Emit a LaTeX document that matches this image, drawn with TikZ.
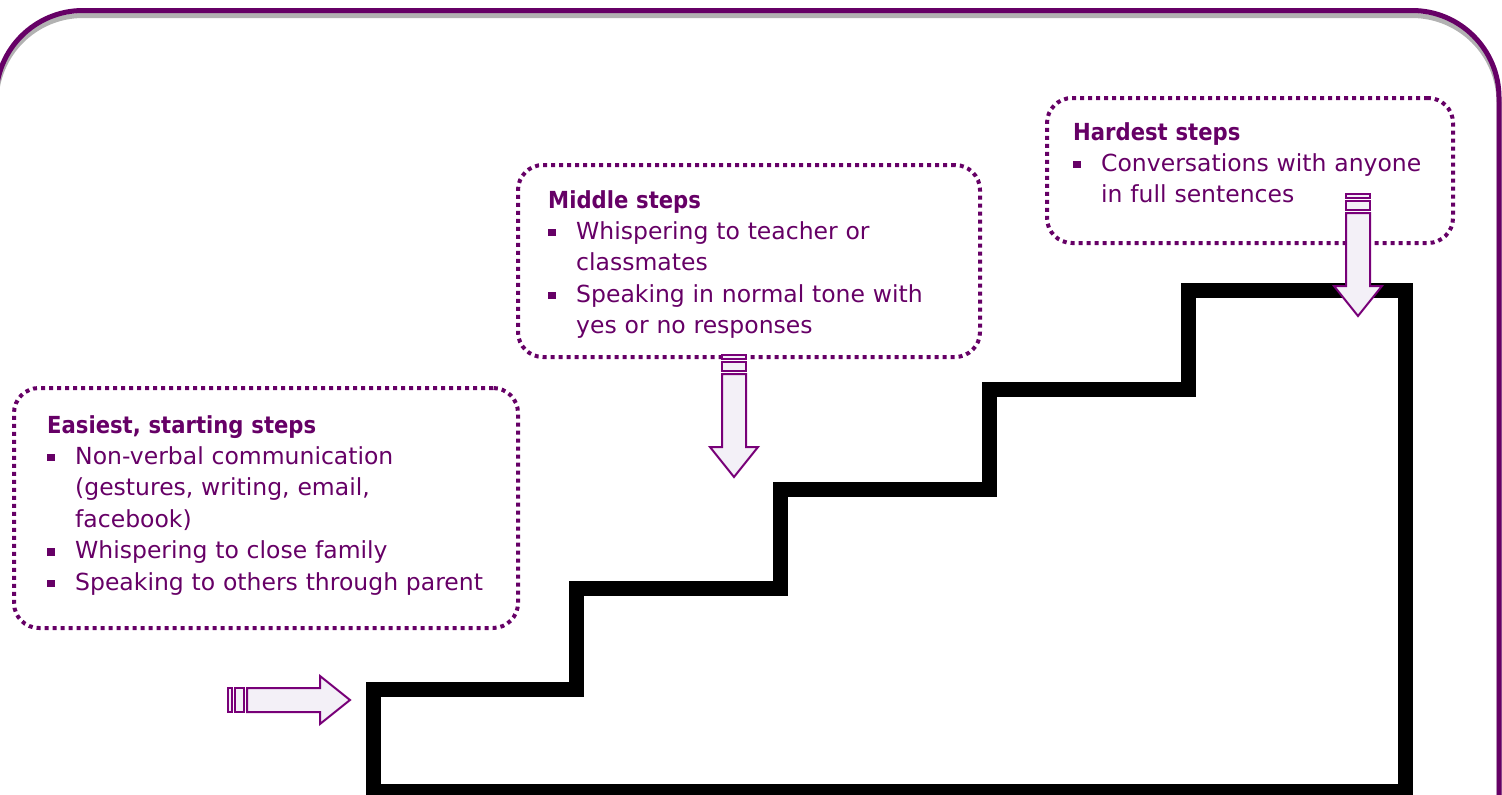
\documentclass[tikz,border=0pt]{standalone}
\usepackage{fontspec}
\setmainfont{DejaVu Sans}
\newfontfamily\headfont{DejaVu Sans}[FakeStretch=0.9]
\usetikzlibrary{calc}
\definecolor{plum}{RGB}{102,0,102}
\definecolor{arrowline}{RGB}{120,0,120}
\definecolor{arrowfill}{RGB}{243,240,247}
\newcommand{\bul}{\par\hangindent=28pt\hangafter=1\noindent\makebox[28pt][l]{\raisebox{3pt}{\rule{7.5pt}{7.5pt}}}}
\tikzset{
  pics/stripedarrow/.style={code={
    \draw[arrowbody] (-122,-12) rectangle (-118,12);
    \draw[arrowbody] (-115,-12) rectangle (-106,12);
    \draw[arrowbody] (-103,-12) -- (-30,-12) -- (-30,-24) -- (0,0) -- (-30,24) -- (-30,12) -- (-103,12) -- cycle;
  }}
}
\begin{document}
\begin{tikzpicture}[
    x=1pt, y=-1pt,
    frameline/.style={draw=plum, line width=5pt, rounded corners=87pt},
    shadowline/.style={draw=black!30, line width=5pt, rounded corners=87pt},
    stairline/.style={draw=black, line width=15pt, miter limit=4},
    stepbox/.style={draw=plum, line width=4pt, dash pattern=on 4pt off 4pt, rounded corners=25pt},
    steptext/.style={text=plum, inner sep=0pt, align=left, anchor=base west,
                     font=\fontsize{23.5}{31.4}\selectfont},
    arrowbody/.style={draw=arrowline, fill=arrowfill, line width=2pt, miter limit=4}
]
    \useasboundingbox (0,0) rectangle (1502,795);
    \clip (0,0) rectangle (1502,795);

    % outer frame, with its shadow shifted down
    \draw[shadowline] (-4,900) -- (-4,15.5) -- (1499,15.5) -- (1499,900);
    \draw[frameline] (-4,900) -- (-4,10.5) -- (1499,10.5) -- (1499,900);

    % staircase
    \draw[stairline] (373,791) -- (373,689) -- (576,689) -- (576,588) -- (780,588)
        -- (780,489) -- (989,489) -- (989,389) -- (1188,389) -- (1188,290)
        -- (1405,290) -- (1405,791) -- cycle;

    % dotted boxes
    \node[stepbox, minimum width=504pt, minimum height=240pt] (easybox) at (266,508) {};
    \node[stepbox, minimum width=462pt, minimum height=192pt] (middlebox) at (749,261) {};
    \node[stepbox, minimum width=406pt, minimum height=145pt] (hardbox) at (1250,170.5) {};

    \node[steptext, text width=470pt] (easytext) at (47,433) {%
        {\headfont\bfseries Easiest, starting steps}
        \bul Non-verbal communication\newline(gestures, writing, email,\newline facebook)
        \bul Whispering to close family
        \bul Speaking to others through parent\par};

    \node[steptext, text width=430pt] (middletext) at (548,208) {%
        {\headfont\bfseries Middle steps}
        \bul Whispering to teacher or\newline classmates
        \bul Speaking in normal tone with\newline yes or no responses\par};

    \node[steptext, text width=400pt] (hardtext) at (1073,140) {%
        {\headfont\bfseries Hardest steps}
        \bul Conversations with anyone\newline in full sentences\par};

    % striped arrows
    \pic (startarrow) at (350,700) {stripedarrow};
    \pic (middlearrow) [rotate=-90] at (734,477) {stripedarrow};
    \pic (hardarrow) [rotate=-90] at (1358,316) {stripedarrow};
\end{tikzpicture}
\end{document}
